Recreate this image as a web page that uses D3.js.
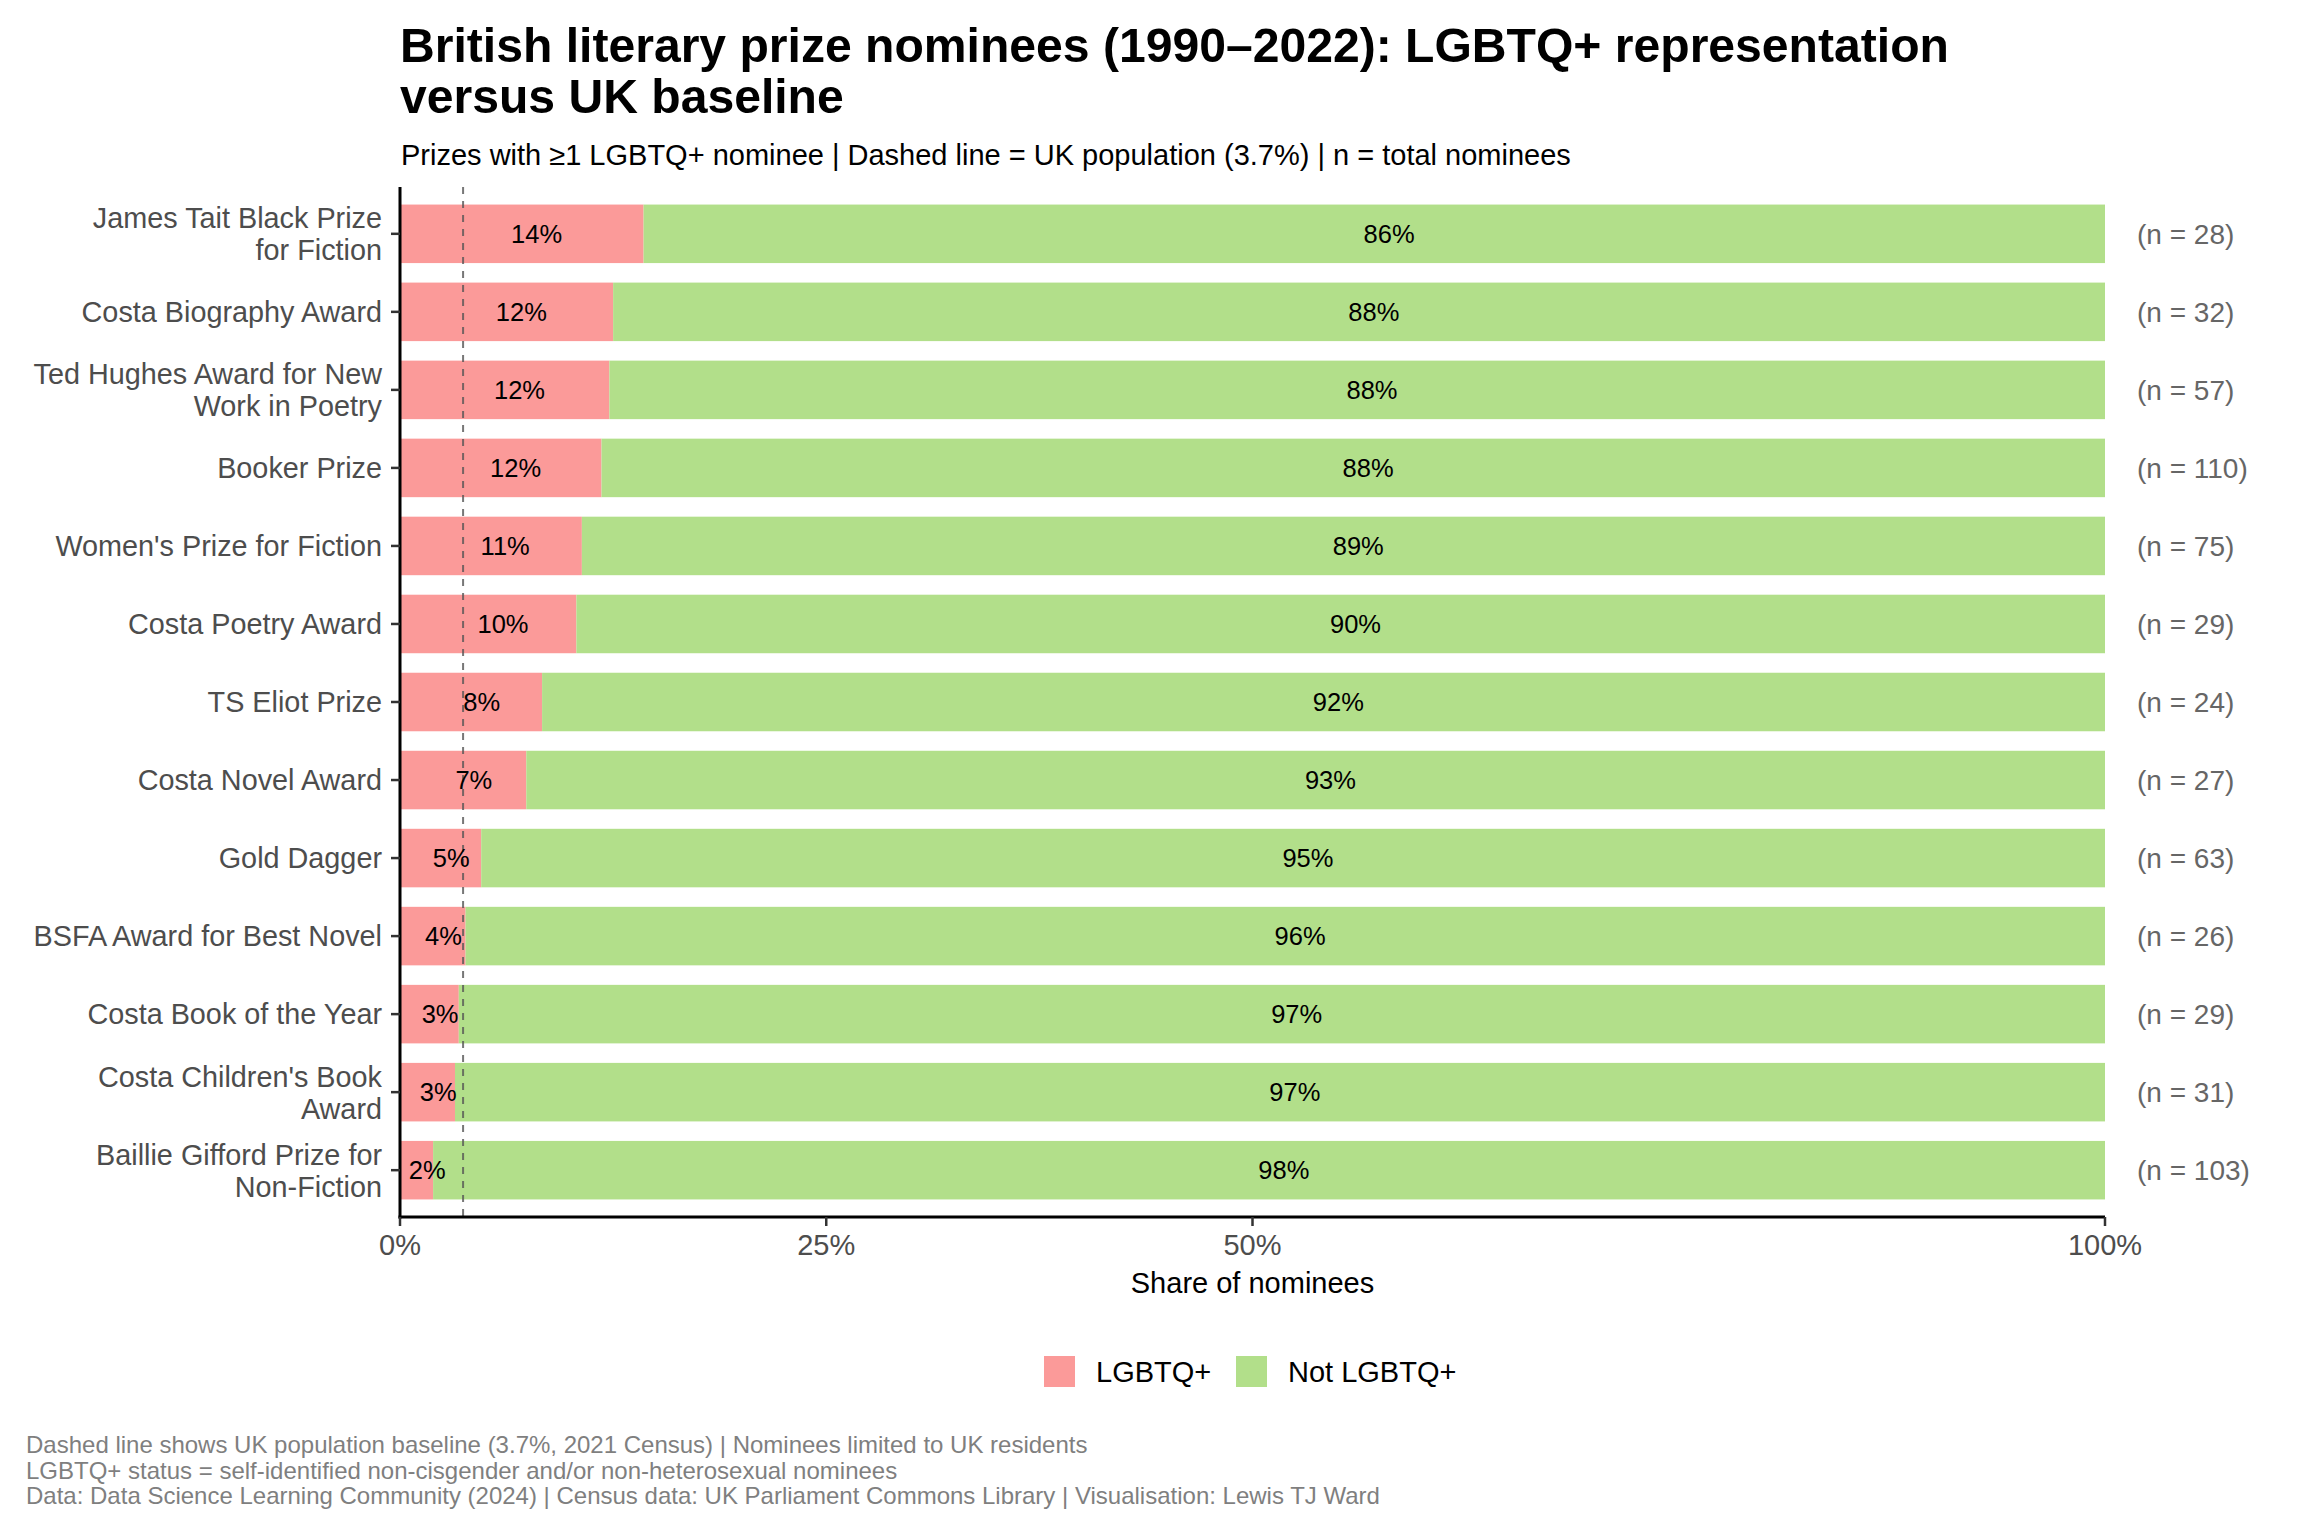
<!DOCTYPE html>
<html>
<head>
<meta charset="utf-8">
<script src="https://cdn.jsdelivr.net/npm/d3@7"></script>
<style>
  body { margin: 0; background: #fff; }
  svg { font-family: "Liberation Sans", Arial, sans-serif; }
</style>
</head>
<body>
<div id="chart"></div>
<script>
// prize names (top to bottom), as wrapped on the axis
let prizes = [
  "James Tait Black Prize\nfor Fiction",
  "Costa Biography Award",
  "Ted Hughes Award for New\nWork in Poetry",
  "Booker Prize",
  "Women's Prize for Fiction",
  "Costa Poetry Award",
  "TS Eliot Prize",
  "Costa Novel Award",
  "Gold Dagger",
  "BSFA Award for Best Novel",
  "Costa Book of the Year",
  "Costa Children's Book\nAward",
  "Baillie Gifford Prize for\nNon-Fiction"
]
// LGBTQ+ nominees and total nominees per prize
let lgbtqCount = [4, 4, 7, 13, 8, 3, 2, 2, 3, 1, 1, 1, 2]
let totalCount = [28, 32, 57, 110, 75, 29, 24, 27, 63, 26, 29, 31, 103]
let groups = ["LGBTQ+", "Not LGBTQ+"]
let groupColors = ["#FB9A99", "#B2DF8A"]
let xBreaks = [0, 0.25, 0.5, 1]
let baseline = 0.037

let title = ["British literary prize nominees (1990\u20132022): LGBTQ+ representation", "versus UK baseline"]
let subtitle = "Prizes with \u22651 LGBTQ+ nominee | Dashed line = UK population (3.7%) | n = total nominees"
let caption = [
  "Dashed line shows UK population baseline (3.7%, 2021 Census) | Nominees limited to UK residents",
  "LGBTQ+ status = self-identified non-cisgender and/or non-heterosexual nominees",
  "Data: Data Science Learning Community (2024) | Census data: UK Parliament Commons Library | Visualisation: Lewis TJ Ward"
]

// R style rounding (half to even) so 12.5% shows as 12%
function roundEven(v){
  let r = Math.round(v)
  if (Math.abs(v % 1) === 0.5 && r % 2 !== 0) r -= 1
  return r
}

const W = 2304, H = 1536
const svg = d3.select("#chart").append("svg")
  .attr("width", W).attr("height", H)

const panel = {left: 400, right: 2105, top: 187, bottom: 1217}

const x = d3.scaleLinear().domain([0, 1]).range([panel.left, panel.right])
// ggplot style: bar width 0.75, 0.6 step expansion each side
const y = d3.scaleBand().domain(prizes)
  .range([panel.top, panel.bottom])
  .paddingInner(0.25).paddingOuter(0.225)

// stacked shares
let rows = prizes.map((p, i) => {
  let share = lgbtqCount[i] / totalCount[i]
  return {prize: p, share: share, n: totalCount[i]}
})

let barG = svg.append("g")
rows.forEach(d => {
  let segs = [[0, d.share], [d.share, 1]]
  segs.forEach((s, j) => {
    barG.append("rect")
      .attr("x", x(s[0]))
      .attr("y", y(d.prize))
      .attr("width", x(s[1]) - x(s[0]))
      .attr("height", y.bandwidth())
      .attr("fill", groupColors[j])
  })
})

// UK baseline
svg.append("line")
  .attr("x1", x(baseline)).attr("x2", x(baseline))
  .attr("y1", panel.top).attr("y2", panel.bottom)
  .attr("stroke", "#555").attr("stroke-opacity", 0.8)
  .attr("stroke-width", 2)
  .attr("stroke-dasharray", "7,7")

// percentage labels
let labG = svg.append("g")
rows.forEach(d => {
  let segs = [[0, d.share], [d.share, 1]]
  segs.forEach(s => {
    let t = labG.append("text")
      .attr("x", x((s[0] + s[1]) / 2))
      .attr("y", y(d.prize) + y.bandwidth() / 2)
      .attr("dy", "0.36em")
      .attr("text-anchor", "middle")
      .style("font-size", "25.5px")
      .attr("fill", "#000")
      .text(roundEven((s[1] - s[0]) * 100) + "%")
    // original labels sit a little right of the segment centre
    t.attr("dx", t.node().getComputedTextLength() * 0.29)
  })
})

// n labels right of the bars
svg.append("g").selectAll("text")
  .data(rows).enter()
  .append("text")
  .attr("x", x(1) + 32)
  .attr("y", d => y(d.prize) + y.bandwidth() / 2)
  .attr("dy", "0.36em")
  .style("font-size", "28px")
  .attr("fill", "#666")
  .text(d => `(n = ${d.n})`)

// y axis
let yAx = svg.append("g")
yAx.append("line")
  .attr("x1", panel.left).attr("x2", panel.left)
  .attr("y1", panel.top).attr("y2", panel.bottom + 1.5)
  .attr("stroke", "#000").attr("stroke-width", 3)
prizes.forEach(p => {
  let cy = y(p) + y.bandwidth() / 2
  yAx.append("line")
    .attr("x1", panel.left - 9).attr("x2", panel.left)
    .attr("y1", cy).attr("y2", cy)
    .attr("stroke", "#333").attr("stroke-width", 2.5)
  let lines = p.split("\n")
  let t = yAx.append("text")
    .attr("text-anchor", "end")
    .style("font-size", "28.8px")
    .attr("fill", "#4d4d4d")
  lines.forEach((l, k) => {
    t.append("tspan")
      .attr("x", 382)
      .attr("y", cy + (k - (lines.length - 1) / 2) * 32)
      .attr("dy", "0.36em")
      .text(l)
  })
})

// x axis
let xAx = svg.append("g")
xAx.append("line")
  .attr("x1", panel.left - 1.5).attr("x2", panel.right)
  .attr("y1", panel.bottom).attr("y2", panel.bottom)
  .attr("stroke", "#000").attr("stroke-width", 3)
xAx.selectAll(".tick").data(xBreaks).enter()
  .append("line")
  .attr("x1", d => x(d)).attr("x2", d => x(d))
  .attr("y1", panel.bottom).attr("y2", panel.bottom + 9)
  .attr("stroke", "#333").attr("stroke-width", 2.5)
xAx.selectAll(".tlab").data(xBreaks).enter()
  .append("text")
  .attr("x", d => x(d))
  .attr("y", 1255)
  .attr("text-anchor", "middle")
  .style("font-size", "29px")
  .attr("fill", "#4d4d4d")
  .text(d => d3.format(".0%")(d))
svg.append("text")
  .attr("x", (panel.left + panel.right) / 2)
  .attr("y", 1293)
  .attr("text-anchor", "middle")
  .style("font-size", "29px")
  .attr("fill", "#000")
  .text("Share of nominees")

// legend
let legX = [1044, 1236]
let leg = svg.append("g")
groups.forEach((g, i) => {
  leg.append("rect")
    .attr("x", legX[i]).attr("y", 1356)
    .attr("width", 31).attr("height", 31)
    .attr("fill", groupColors[i])
  leg.append("text")
    .attr("x", legX[i] + 52).attr("y", 1382)
    .style("font-size", "29px")
    .attr("fill", "#000")
    .text(g)
})

// titles
svg.append("g").selectAll("text")
  .data(title).enter()
  .append("text")
  .attr("x", 400)
  .attr("y", (d, i) => 62 + i * 51)
  .style("font-size", "48.1px")
  .style("font-weight", "bold")
  .attr("fill", "#000")
  .text(d => d)
svg.append("text")
  .attr("x", 401).attr("y", 165)
  .style("font-size", "29px")
  .attr("fill", "#000")
  .text(subtitle)

// caption
svg.append("g").selectAll("text")
  .data(caption).enter()
  .append("text")
  .attr("x", 26)
  .attr("y", (d, i) => 1453 + i * 25.5)
  .style("font-size", "24px")
  .attr("fill", "#7f7f7f")
  .text(d => d)
</script>
</body>
</html>
